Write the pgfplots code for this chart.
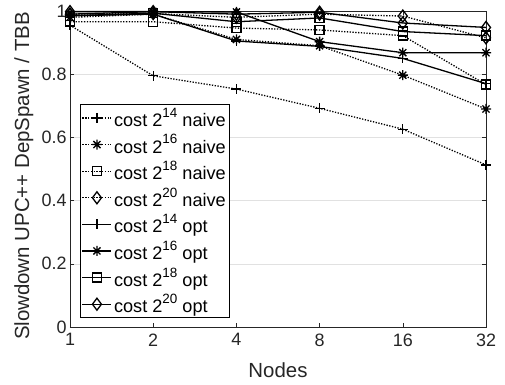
\documentclass[border=0pt]{standalone}
\usepackage{pgfplots}
\pgfplotsset{compat=1.18}
\usepackage{fontspec}
\setmainfont{Liberation Sans}
\definecolor{axgray}{RGB}{38,38,38}
\definecolor{gridgray}{RGB}{225,225,225}
\newcommand{\sups}[1]{\raisebox{0.5em}{\fontsize{13.5}{12}\selectfont #1}}
\pgfdeclareplotmark{mstar}{%
 \pgfpathmoveto{\pgfqpoint{-\pgfplotmarksize}{0pt}}\pgfpathlineto{\pgfqpoint{\pgfplotmarksize}{0pt}}%
 \pgfpathmoveto{\pgfqpoint{0pt}{-\pgfplotmarksize}}\pgfpathlineto{\pgfqpoint{0pt}{\pgfplotmarksize}}%
 \pgfpathmoveto{\pgfqpoint{-.707\pgfplotmarksize}{-.707\pgfplotmarksize}}\pgfpathlineto{\pgfqpoint{.707\pgfplotmarksize}{.707\pgfplotmarksize}}%
 \pgfpathmoveto{\pgfqpoint{-.707\pgfplotmarksize}{.707\pgfplotmarksize}}\pgfpathlineto{\pgfqpoint{.707\pgfplotmarksize}{-.707\pgfplotmarksize}}%
 \pgfusepathqstroke}
\begin{document}
\begin{tikzpicture}
\begin{axis}[
  at={(0,0)}, anchor=south west,
  scale only axis, width=416bp, height=316bp,
  xmode=log, log basis x=2,
  xmin=1, xmax=32, ymin=0, ymax=1,
  xtick={1,2,4,8,16,32}, xticklabels={1,2,4,8,16,32},
  ytick={0,0.2,0.4,0.6,0.8,1},
  yticklabels={0,0.2,0.4,0.6,0.8,1},
  ymajorgrids, grid style={gridgray, line width=0.6bp},
  tick align=inside, tick style={axgray, line width=0.6bp},
  major tick length=4.5bp,
  axis line style={axgray, line width=0.7bp},
  tick label style={font=\fontsize{18}{20}\selectfont, text=axgray},
  xticklabel style={yshift=-3bp},
  label style={font=\fontsize{20.5}{23}\selectfont, text=axgray},
  xlabel={Nodes},
  ylabel={Slowdown UPC++ DepSpawn / TBB},
  xlabel style={at={(axis description cs:0.5,-0.136)}, anchor=center},
  ylabel style={at={(axis description cs:-0.111,0.478)}, anchor=center},
  legend style={at={(axis description cs:0.024,0.0285)}, anchor=south west,
    draw=black, line width=0.6bp, fill=white, inner sep=1.5bp,
    font=\fontsize{18.2}{20}\selectfont, row sep=2.7bp,
    cells={anchor=west}},
  legend image code/.code={\draw[mark repeat=2, mark phase=2] plot coordinates {(0bp,0bp) (14.5bp,0bp) (29bp,0bp)};},
  every axis plot/.append style={black, line width=1.3bp, mark size=5bp, mark options={solid, line width=1.3bp}},
]
\addplot[dash pattern=on 1.3bp off 1.5bp, mark=+] coordinates {(1,0.955) (2,0.795) (4,0.753) (8,0.692) (16,0.626) (32,0.513)};
\addlegendentry{cost 2\sups{14} naive}
\addplot[dash pattern=on 1.3bp off 1.5bp, mark=mstar] coordinates {(1,0.98) (2,0.99) (4,0.91) (8,0.89) (16,0.797) (32,0.69)};
\addlegendentry{cost 2\sups{16} naive}
\addplot[dash pattern=on 1.3bp off 1.5bp, mark=square, mark size=4.5bp] coordinates {(1,0.966) (2,0.966) (4,0.946) (8,0.94) (16,0.922) (32,0.767)};
\addlegendentry{cost 2\sups{18} naive}
\addplot[dash pattern=on 1.3bp off 1.5bp, mark=diamond, mark size=6bp] coordinates {(1,0.99) (2,0.992) (4,0.98) (8,0.99) (16,0.984) (32,0.915)};
\addlegendentry{cost 2\sups{20} naive}
\addplot[solid, mark=+] coordinates {(1,0.985) (2,0.99) (4,0.905) (8,0.888) (16,0.85) (32,0.77)};
\addlegendentry{cost 2\sups{14} opt}
\addplot[solid, mark=mstar] coordinates {(1,0.99) (2,0.998) (4,0.997) (8,0.903) (16,0.868) (32,0.868)};
\addlegendentry{cost 2\sups{16} opt}
\addplot[solid, mark=square, mark size=4.5bp] coordinates {(1,0.985) (2,0.993) (4,0.966) (8,0.978) (16,0.935) (32,0.922)};
\addlegendentry{cost 2\sups{18} opt}
\addplot[solid, mark=diamond, mark size=6bp] coordinates {(1,0.998) (2,0.998) (4,0.99) (8,0.996) (16,0.962) (32,0.948)};
\addlegendentry{cost 2\sups{20} opt}
\end{axis}
\pgfresetboundingbox
\useasboundingbox (-70bp,-58bp) rectangle (435bp,327bp);
\end{tikzpicture}
\end{document}
